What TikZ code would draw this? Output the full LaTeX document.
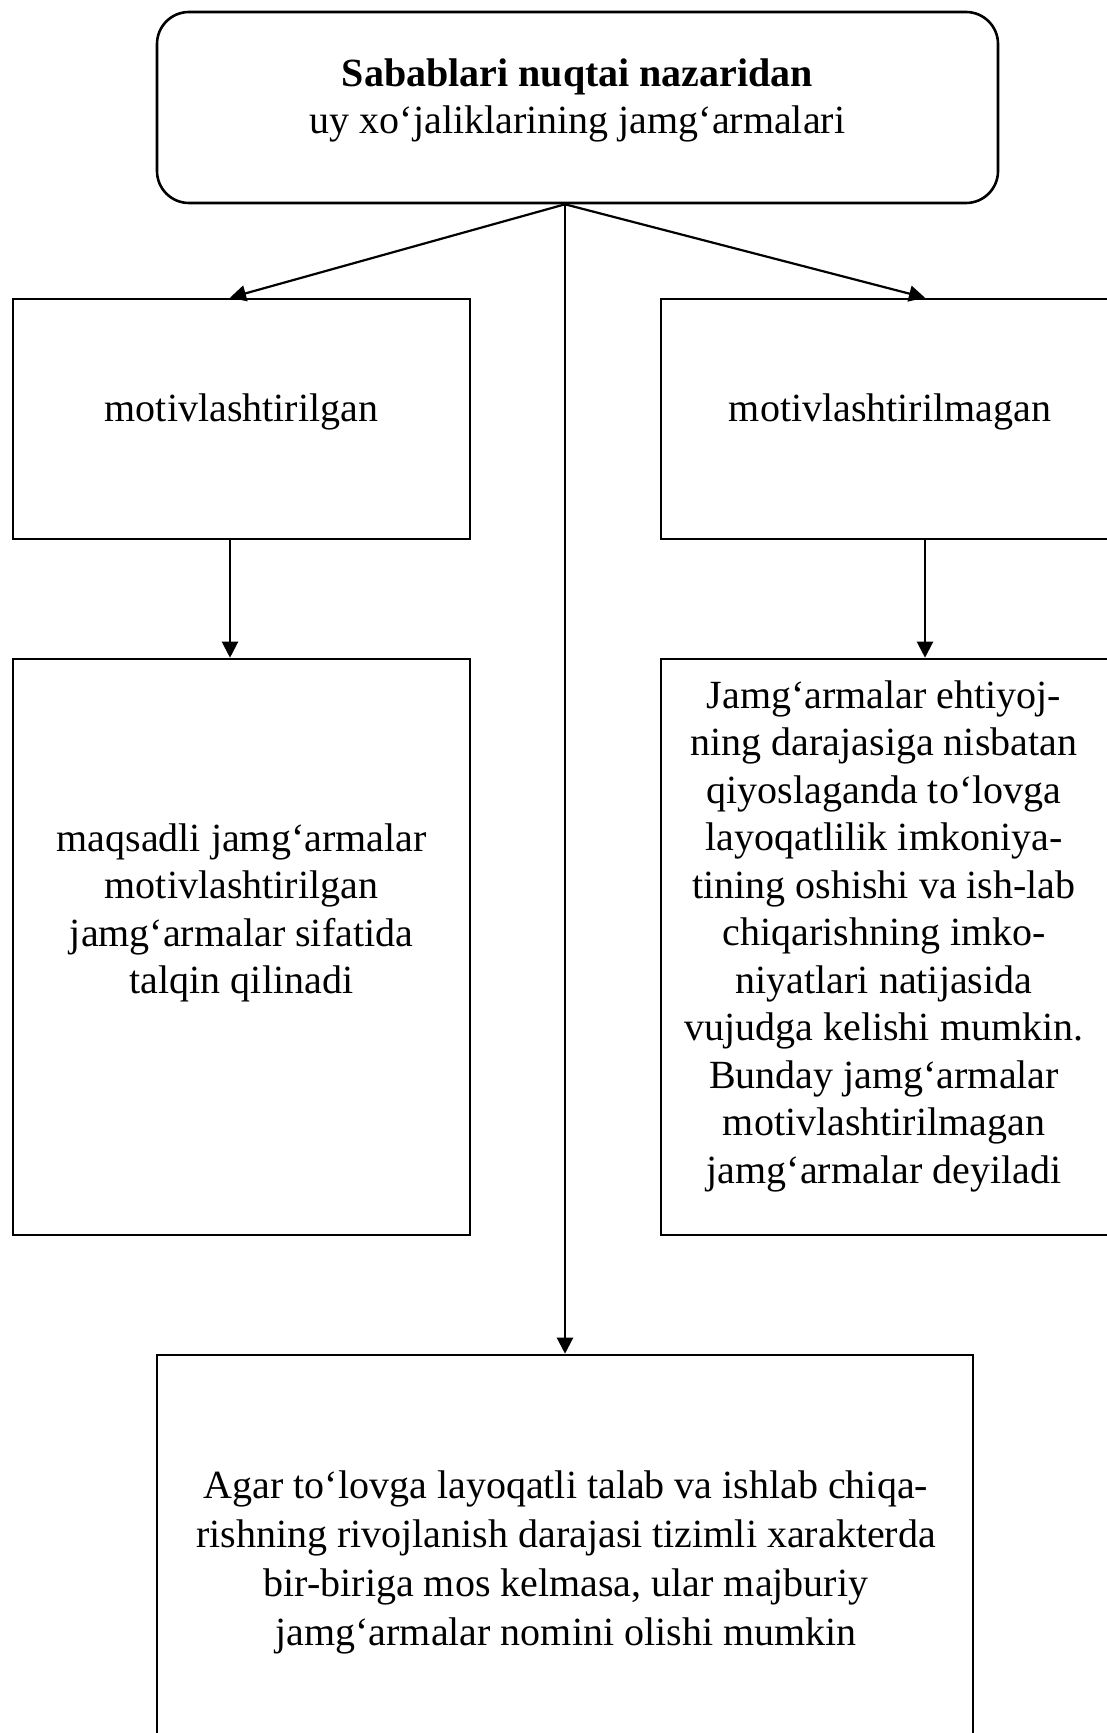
\documentclass[tikz,border=0pt]{standalone}
\usepackage{fontspec}
\setmainfont{Liberation Serif}
\usetikzlibrary{arrows.meta,fit}
\begin{document}
\begin{tikzpicture}[x=0.5pt,y=-0.5pt,
  box/.style={draw,line width=1.3pt,inner sep=0pt},
  txt/.style={align=center,inner sep=0pt,font=\fontsize{20pt}{23.75pt}\selectfont},
  arr/.style={line width=1.1pt,-{Triangle[width=8pt,length=8pt]}}]
\clip (0,0) rectangle (1107,1733);
\fill[white] (0,0) rectangle (1107,1733);
% boxes
\node[box,rounded corners=16pt,fit={(157,12) (998,203)}] (top) {};
\node[box,fit={(13,299) (470,539)}] (L1) {};
\node[box,fit={(661,299) (1120,539)}] (R1) {};
\node[box,fit={(13,659) (470,1235)}] (L2) {};
\node[box,fit={(661,659) (1120,1235)}] (R2) {};
\node[box,fit={(157,1355) (973,1760)}] (B) {};
% texts
\node[txt] (ttop) at (577.5,100.5) {\textbf{Sabablari nuqtai nazaridan}\\uy xo‘jaliklarining jamg‘armalari};
\node[txt,anchor=base] (tL1) at (241.5,422) {motivlashtirilgan};
\node[txt,anchor=base] (tR1) at (890,422) {motivlashtirilmagan};
\node[txt] (tL2) at (241.5,913) {maqsadli jamg‘armalar\\motivlashtirilgan\\jamg‘armalar sifatida\\talqin qilinadi};
\node[txt] (tR2) at (884,936) {Jamg‘armalar ehtiyoj-\\ning darajasiga nisbatan\\qiyoslaganda to‘lovga\\layoqatlilik imkoniya-\\tining oshishi va ish-lab\\chiqarishning imko-\\niyatlari natijasida\\vujudga kelishi mumkin.\\Bunday jamg‘armalar\\motivlashtirilmagan\\jamg‘armalar deyiladi};
\node[txt,font=\fontsize{20pt}{24.5pt}\selectfont] (tB) at (566,1562) {Agar to‘lovga layoqatli talab va ishlab chiqa-\\rishning rivojlanish darajasi tizimli xarakterda\\bir-biriga mos kelmasa, ular majburiy\\jamg‘armalar nomini olishi mumkin};
% connectors
\coordinate (apex) at ([xshift=-6.25pt]top.south);
\draw[arr] (apex) -- ([xshift=-5.75pt]L1.north);
\draw[arr] (apex) -- ([xshift=17.25pt]R1.north);
\draw[arr] (apex) -- (apex |- B.north);
\draw[arr] ([xshift=-5.75pt]L1.south) -- ([xshift=-5.75pt]L2.north);
\draw[arr] ([xshift=17.25pt]R1.south) -- ([xshift=17.25pt]R2.north);
\end{tikzpicture}
\end{document}
